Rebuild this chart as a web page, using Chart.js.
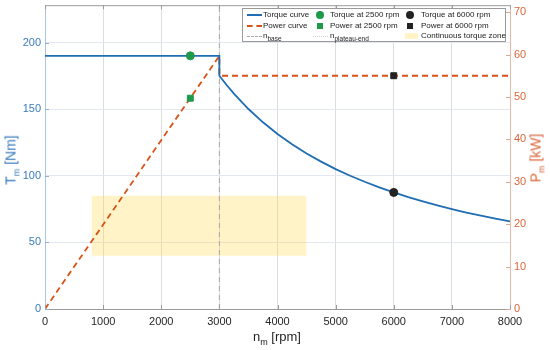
<!DOCTYPE html>
<html><head><meta charset="utf-8">
<script src="https://cdn.jsdelivr.net/npm/chart.js@4.4.1/dist/chart.umd.min.js"></script>
<style>
html,body{margin:0;padding:0;background:#fff;}
#wrap{position:relative;width:550px;height:350px;font-family:"Liberation Sans",Arial,Helvetica,sans-serif;overflow:hidden;}
#c{position:absolute;left:0;top:0;}
.ttl{position:absolute;font-size:13px;white-space:nowrap;line-height:15px;}
.ttl.v{font-size:14px;}
.ttl sub{font-size:9px;vertical-align:-4px;line-height:0;}
#legend{position:absolute;left:242px;top:8px;width:264px;height:34px;border:1px solid #9a9a9a;background:#fff;font-size:8px;color:#222;box-sizing:border-box;}
.it{position:absolute;white-space:nowrap;line-height:10px;height:10px;}
.it sub{font-size:6.5px;vertical-align:-3px;line-height:0;}
.sym{position:absolute;}
</style></head>
<body>
<div id="wrap">
<canvas id="c" width="550" height="350"></canvas>
<div class="ttl v" id="tl" style="left:11px;top:160px;color:#3a7bbd;transform:translate(-50%,-50%) rotate(-90deg);">T<sub>m</sub> [Nm]</div>
<div class="ttl v" id="tr" style="left:536px;top:158px;color:#d9663a;transform:translate(-50%,-50%) rotate(-90deg);">P<sub>m</sub> [kW]</div>
<div class="ttl" id="tx" style="left:277px;top:329px;color:#262626;transform:translateX(-50%);">n<sub>m</sub> [rpm]</div>
<div id="legend"></div>
</div>
<script>
// ---- data ----
const speedTicks = [0,1000,2000,3000,4000,5000,6000,7000,8000];
const torqueRpm = [0,3000,3000,3125,3250,3500,3750,4000,4250,4500,4750,5000,5250,5500,5750,6000,6250,6500,6750,7000,7250,7500,7750,8000];
const torqueNm  = [190,190,175.1,168.1,161.6,150.1,140.1,131.3,123.6,116.7,110.6,105.0,100.0,95.5,91.3,87.5,84.0,80.8,77.8,75.0,72.4,70.0,67.8,65.7];
const powerRpm = [0,3000,3000,8000];
const powerKw  = [0,59.7,55,55];
const markerRpm = [2500,6000];
const markerTorque = [190,87.5];
const markerPower = [49.7,55];
const zoneRpm = [800,4500];
const zoneTorqueLow = 40, zoneTorqueHigh = 85;
const nBase = 3000, nPlateauEnd = 3000;
const torqueAxisMax = 228, powerAxisMax = 71.63;
const torqueTickStep = 50, powerTickStep = 10;

const pts = (xs, ys) => xs.map((x,i)=>({x, y: ys[i]}));
const BLUE='#1f6db3', ORANGE='#d95319', GREEN='#1f9a4a', BLACK='#222222';

const frame = {
  id:'frame',
  afterDraw(chart){
    const {ctx, chartArea:a, scales} = chart;
    ctx.save();
    ctx.lineWidth = 1;
    ctx.strokeStyle = '#9a9a9a';
    ctx.beginPath(); ctx.moveTo(a.left, a.top+0.5); ctx.lineTo(a.right, a.top+0.5); ctx.stroke();
    scales.x.ticks.forEach(t=>{
      const px = Math.round(scales.x.getPixelForValue(t.value))+0.5;
      ctx.beginPath(); ctx.moveTo(px,a.bottom); ctx.lineTo(px,a.bottom-4);
      ctx.moveTo(px,a.top); ctx.lineTo(px,a.top+4); ctx.stroke();
    });
    ctx.strokeStyle = '#8fb3db';
    scales.y.ticks.forEach(t=>{
      const py = Math.round(scales.y.getPixelForValue(t.value))+0.5;
      ctx.beginPath(); ctx.moveTo(a.left,py); ctx.lineTo(a.left+4,py); ctx.stroke();
    });
    ctx.strokeStyle = '#e2a58f';
    scales.y1.ticks.forEach(t=>{
      const py = Math.round(scales.y1.getPixelForValue(t.value))+0.5;
      ctx.beginPath(); ctx.moveTo(a.right,py); ctx.lineTo(a.right-4,py); ctx.stroke();
    });
    ctx.restore();
  }
};

const noPad = s => { s.paddingTop = 0; s.paddingBottom = 0; s.paddingLeft = 0; s.paddingRight = 0; };
const FONT = {size:11, family:'"Liberation Sans", Arial'};

new Chart(document.getElementById('c'), {
  type:'line',
  data:{ datasets:[
    {label:'Torque curve', data:pts(torqueRpm,torqueNm), yAxisID:'y', borderColor:BLUE, borderWidth:1.8, pointRadius:0, tension:0, order:1},
    {label:'Power curve', data:pts(powerRpm,powerKw), yAxisID:'y1', borderColor:ORANGE, borderDash:[6,4], borderWidth:1.8, pointRadius:0, tension:0, order:2},
    {label:'Torque at 2500 rpm', data:[{x:markerRpm[0],y:markerTorque[0]}], yAxisID:'y', showLine:false, pointStyle:'circle', pointRadius:4, backgroundColor:GREEN, borderColor:GREEN, order:0},
    {label:'Power at 2500 rpm', data:[{x:markerRpm[0],y:markerPower[0]}], yAxisID:'y1', showLine:false, pointStyle:'rect', pointRadius:4.2, backgroundColor:GREEN, borderColor:GREEN, order:0},
    {label:'Torque at 6000 rpm', data:[{x:markerRpm[1],y:markerTorque[1]}], yAxisID:'y', showLine:false, pointStyle:'circle', pointRadius:4, backgroundColor:BLACK, borderColor:BLACK, order:0},
    {label:'Power at 6000 rpm', data:[{x:markerRpm[1],y:markerPower[1]}], yAxisID:'y1', showLine:false, pointStyle:'rect', pointRadius:4.2, backgroundColor:BLACK, borderColor:BLACK, order:0},
    {label:'n_base', data:[{x:nBase,y:0},{x:nBase,y:torqueAxisMax}], yAxisID:'y', borderColor:'#a8a8a8', borderDash:[5,4], borderWidth:1, pointRadius:0, order:5},
    {label:'n_plateau-end', data:[{x:nPlateauEnd,y:0},{x:nPlateauEnd,y:torqueAxisMax}], yAxisID:'y', borderColor:'#d4d4d4', borderDash:[1,2], borderWidth:1, pointRadius:0, order:6},
    {label:'Continuous torque zone', data:pts(zoneRpm,[zoneTorqueHigh,zoneTorqueHigh]), yAxisID:'y', borderWidth:0, borderColor:'rgba(0,0,0,0)', pointRadius:0, fill:'+1', backgroundColor:'rgba(255,215,70,0.3)', order:10},
    {label:'zone-low', data:pts(zoneRpm,[zoneTorqueLow,zoneTorqueLow]), yAxisID:'y', borderWidth:0, borderColor:'rgba(0,0,0,0)', pointRadius:0, order:11}
  ]},
  options:{
    responsive:false, animation:false, devicePixelRatio:1,
    layout:{padding:{top:4,left:0,right:0,bottom:0}},
    plugins:{legend:{display:false}, tooltip:{enabled:false}},
    scales:{
      x:{type:'linear', min:0, max:8000,
        afterBuildTicks:s=>{s.ticks = speedTicks.map(v=>({value:v}));},
        afterFit:s=>{s.height=41; noPad(s);},
        ticks:{color:'#262626', font:FONT, padding:6, maxRotation:0, callback:v=>String(v)},
        grid:{color:'#dddddd', drawTicks:false}, border:{color:'#9a9a9a'}},
      y:{position:'left', min:0, max:torqueAxisMax,
        ticks:{stepSize:torqueTickStep, includeBounds:false, color:'#3a7bbd', font:FONT, padding:4, callback:v=>String(v)},
        afterFit:s=>{s.width=45; noPad(s);},
        grid:{color:'#e3e7f1', drawTicks:false}, border:{color:'#a9c6e6'}},
      y1:{position:'right', min:0, max:powerAxisMax,
        ticks:{stepSize:powerTickStep, includeBounds:false, color:'#d9663a', font:FONT, padding:4, callback:v=>String(v)},
        afterFit:s=>{s.width=40; noPad(s);},
        grid:{drawOnChartArea:false, drawTicks:false}, border:{color:'#ebb8a6'}}
    }
  },
  plugins:[frame]
});

// ---- legend (HTML) ----
const legendItems = [
  {col:0,row:0,sym:'line',color:BLUE,text:'Torque curve'},
  {col:0,row:1,sym:'dash',color:ORANGE,text:'Power curve'},
  {col:0,row:2,sym:'gdash',color:'#a8a8a8',text:'n<sub>base</sub>'},
  {col:1,row:0,sym:'circle',color:GREEN,text:'Torque at 2500 rpm'},
  {col:1,row:1,sym:'square',color:GREEN,text:'Power at 2500 rpm'},
  {col:1,row:2,sym:'dot',color:'#cfcfcf',text:'n<sub>plateau-end</sub>'},
  {col:2,row:0,sym:'circle',color:BLACK,text:'Torque at 6000 rpm'},
  {col:2,row:1,sym:'square',color:BLACK,text:'Power at 6000 rpm'},
  {col:2,row:2,sym:'patch',color:'rgba(255,215,70,0.3)',text:'Continuous torque zone'}
];
const colSym = [4, 70, 160], colText = [20, 87, 178], rowY = [1, 11.5, 22];
const lg = document.getElementById('legend');
legendItems.forEach(it=>{
  const s = document.createElement('div'); s.className='sym';
  const cy = rowY[it.row]+5, x0 = colSym[it.col];
  if(it.sym==='line'){ Object.assign(s.style,{left:x0+'px',top:(cy-1)+'px',width:'15px',height:'0',borderTop:'2px solid '+it.color}); }
  else if(it.sym==='dash'){ Object.assign(s.style,{left:x0+'px',top:(cy-1)+'px',width:'15px',height:'0',borderTop:'2px dashed '+it.color}); }
  else if(it.sym==='gdash'){ Object.assign(s.style,{left:x0+'px',top:(cy)+'px',width:'15px',height:'0',borderTop:'1px dashed '+it.color}); }
  else if(it.sym==='dot'){ Object.assign(s.style,{left:x0+'px',top:(cy)+'px',width:'15px',height:'0',borderTop:'1px dotted '+it.color}); }
  else if(it.sym==='circle'){ Object.assign(s.style,{left:(x0+3)+'px',top:(cy-4)+'px',width:'8px',height:'8px',borderRadius:'50%',background:it.color}); }
  else if(it.sym==='square'){ Object.assign(s.style,{left:(x0+4)+'px',top:(cy-3)+'px',width:'6px',height:'6px',background:it.color}); }
  else if(it.sym==='patch'){ Object.assign(s.style,{left:(x0+2)+'px',top:(cy-3)+'px',width:'13px',height:'6px',background:it.color}); }
  lg.appendChild(s);
  const t = document.createElement('div'); t.className='it';
  t.style.left = colText[it.col]+'px'; t.style.top = rowY[it.row]+'px';
  t.innerHTML = it.text; lg.appendChild(t);
});
</script>
</body></html>
